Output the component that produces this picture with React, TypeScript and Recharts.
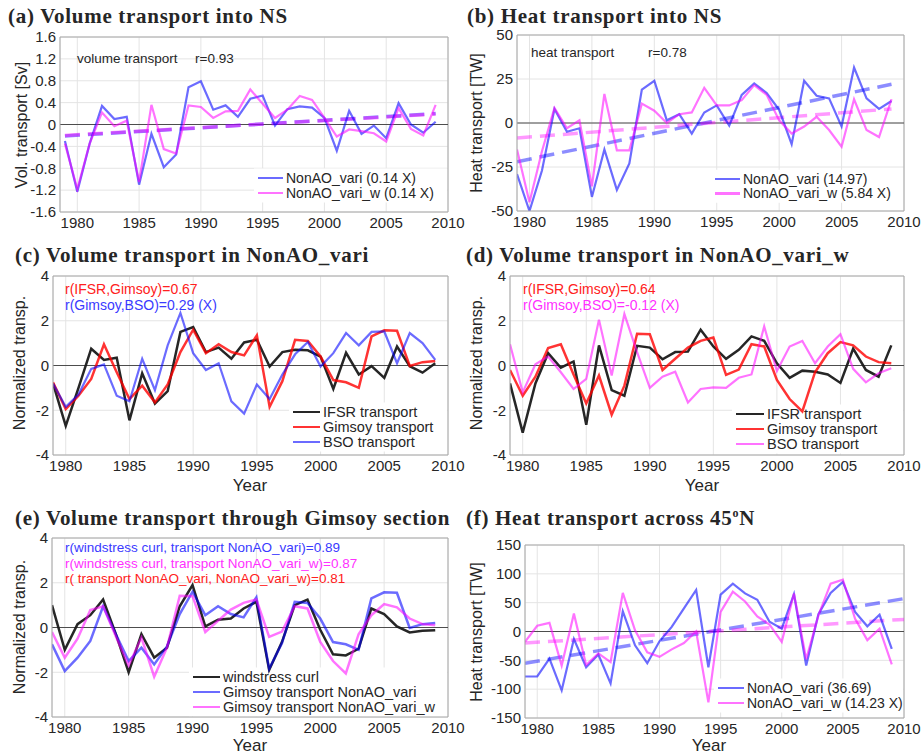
import React from 'react';
import { LineChart, Line, XAxis, YAxis, CartesianGrid, ReferenceLine, ReferenceArea } from 'recharts';

const years = [1979, 1980, 1981, 1982, 1983, 1984, 1985, 1986, 1987, 1988, 1989, 1990, 1991, 1992, 1993, 1994, 1995, 1996, 1997, 1998, 1999, 2000, 2001, 2002, 2003, 2004, 2005, 2006, 2007, 2008, 2009];
const xTicks = [1980, 1985, 1990, 1995, 2000, 2005, 2010];

// (a) volume transport into NS [Sv]
const aVari = [-0.3, -1.23, -0.35, 0.34, 0.1, 0.14, -1.1, -0.17, -0.78, -0.55, 0.68, 0.79, 0.27, 0.35, 0.14, 0.47, 0.53, -0.02, 0.28, 0.33, 0.31, 0.12, -0.48, 0.25, -0.17, -0.02, -0.25, 0.39, 0.0, -0.15, 0.05];
const aVariW = [-0.35, -1.18, -0.35, 0.22, -0.03, 0.07, -1.05, 0.36, -0.45, -0.53, 0.35, 0.32, 0.12, 0.24, 0.25, 0.64, 0.38, 0.12, 0.27, 0.52, 0.45, 0.12, -0.22, -0.09, -0.12, -0.16, -0.31, 0.3, -0.08, -0.2, 0.36];
const aTrendVari = [-0.21, 0.2];
const aTrendVariW = [-0.2, 0.19];

// (b) heat transport into NS [TW]
const bVari = [-29, -50, -27, 8, -5, -3, -42, -15, -38, -23, 19, 24, 1.5, 5, -6, 6, 10, -1.5, 16, 22.5, 17, 7.5, -12, 24, 15.5, 14, -2, 31.5, 14, 8, 12.5];
const bVariW = [-15, -45, -16, 8.5, -3, 1.5, -36, 16.5, -15.5, -15.5, 11, 7, 0, 5, 6, 20, 10, 10, 13, 21.5, 16, 1.5, -6, -2, 3.5, -4, -13.5, 13.5, -4, -8, 13.5];
const bTrendVari = [-22, 22];
const bTrendVariW = [-8.5, 8];
const trendYears = [1979, 2009];

// (c) NonAO_vari, normalized
const cIfsr = [-0.8, -2.7, -1.0, 0.75, 0.25, 0.35, -2.45, -0.35, -1.7, -1.15, 1.5, 1.72, 0.6, 0.8, 0.3, 1.03, 1.15, -0.05, 0.6, 0.7, 0.68, 0.4, -1.05, 0.57, -0.4, -0.03, -0.55, 0.85, -0.03, -0.32, 0.1];
const gimsoyVari = [-0.75, -1.95, -1.35, -0.6, 0.95, -0.3, -1.5, -0.9, -1.65, -0.85, 0.6, 1.6, 0.55, 0.95, 0.6, 0.45, 1.35, -1.85, -0.7, 1.15, 1.1, 0.4, -0.65, -0.75, -1.0, 1.3, 1.57, 1.55, -0.02, 0.15, 0.2];
const cBso = [-0.8, -1.85, -1.3, -0.15, 0.05, -1.35, -1.6, 0.3, -1.1, 0.9, 2.35, 0.55, -0.2, 0.1, -1.6, -2.15, -0.85, -1.5, -0.4, 0.5, 1.05, -0.05, 0.55, 1.45, 0.9, 1.5, 1.52, 0.1, 1.45, 1.0, 0.25];

// (d) NonAO_vari_w, normalized
const dIfsr = [-0.8, -3.0, -0.8, 0.55, -0.1, 0.18, -2.65, 0.9, -1.1, -1.35, 0.88, 0.8, 0.28, 0.6, 0.62, 1.6, 0.85, 0.3, 0.7, 1.3, 1.1, 0.1, -0.55, -0.23, -0.28, -0.4, -0.78, 0.75, -0.2, -0.5, 0.9];
const gimsoyVariW = [-0.2, -1.35, -0.5, 0.78, 0.95, -0.4, -1.7, -0.45, -2.2, -0.9, 1.42, 1.4, -0.2, 0.3, 0.8, 1.1, 1.25, -0.42, -0.18, 0.95, 0.85, -0.65, -1.5, -2.05, -0.3, 0.55, 1.05, 0.9, 0.4, 0.15, 0.1];
const dBso = [0.95, -1.2, 0.05, 0.4, -0.3, -1.05, -0.6, 2.05, -0.45, 2.3, 0.6, -1.0, -0.5, -0.28, -1.65, -1.05, -0.98, -1.0, -0.55, -0.4, 1.75, -0.25, 0.85, 1.1, 0.1, 0.85, 1.4, -0.15, -0.75, -0.35, -0.12];

// (e) windstress curl
const eWind = [1.0, -1.0, 0.15, 0.55, 1.25, -0.3, -2.0, -0.3, -1.35, -0.9, 0.95, 1.9, 0.05, 0.35, 0.4, 0.85, 1.15, -1.9, -0.65, 1.0, 1.25, -0.1, -1.2, -1.25, -0.95, 0.85, 0.6, 0.05, -0.22, -0.15, -0.12];

// (f) heat transport across 45N [TW]
const fVari = [-78, -78, -47, -102, -13, -62, -40, -90, 35, -24, -55, -17, 8, 40, 72, -62, 64, 83, 66, 55, 17, 5, 65, -59, 30, 67, 86, 34, 9, 29, -30];
const fVariW = [-18, 10, 15, -59, 31, -58, -38, -53, 67, 2, -36, -44, -31, -20, 0, -123, 34, 69, 52, 26, 12, -18, 66, -48, 28, 83, 90, 22, -15, 5, -57];
const fTrendYears = [1979, 2010];
const fTrendVari = [-55, 57];
const fTrendVariW = [-20, 21];

const SANS = '"Liberation Sans", Arial, Helvetica, sans-serif';
const SERIF = '"Liberation Serif", "Times New Roman", serif';
const BORDER = '#a8a8a8';
const TXT = '#262626';

const BLUE = { color: '#0000ff', op: 0.58 };
const PINK = { color: '#ff00ff', op: 0.55 };
const RED = { color: '#ff0000', op: 0.8 };
const BLACK = { color: '#1a1a1a', op: 0.95 };

const YW = 50, MT = 12, MR = 22, XH = 26;

const fmt1 = (v: number) => (v === 0 ? '0' : v.toFixed(1));
const fmt0 = (v: number) => String(v);

type S = { key: string; color: string; op: number; w?: number };
type T = { data: { year: number; v: number }[]; color: string; op: number };
type Item = { label: string; color: string; op: number };
type Leg = { left: number; top: number; rowH: number; lineLen: number; fontSize: number; items: Item[] };

function Legend(p: Leg) {
  return (
    <div style={{ position: 'absolute', left: p.left - 3, top: p.top - p.rowH / 2 - 2, padding: '2px 3px',
      fontFamily: SANS, fontSize: p.fontSize, color: TXT, lineHeight: p.rowH + 'px' }}>
      {p.items.map((it) => (
        <div key={it.label} style={{ display: 'flex', alignItems: 'center', whiteSpace: 'nowrap', height: p.rowH }}>
          <span style={{ display: 'inline-block', width: p.lineLen, height: 2.5, background: it.color, opacity: it.op, marginRight: 3 }} />
          <span>{it.label}</span>
        </div>
      ))}
    </div>
  );
}

function Panel(p: {
  x0: number; x1: number; y0: number; y1: number;
  xDomain: number[]; yDomain: number[]; yTicks: number[];
  fmt: (v: number) => string;
  rows: any[]; series: S[]; trends?: T[]; legend: Leg;
}) {
  const w = p.x1 - p.x0 + YW + MR;
  const h = p.y1 - p.y0 + MT + XH;
  const tick = { fontSize: 15, fill: TXT, fontFamily: SANS };
  // white box behind the legend (hides the grid, lines stay on top)
  const L = p.legend;
  const toX = (px: number) => p.xDomain[0] + ((px - p.x0) / (p.x1 - p.x0)) * (p.xDomain[1] - p.xDomain[0]);
  const toY = (py: number) => p.yDomain[1] - ((py - p.y0) / (p.y1 - p.y0)) * (p.yDomain[1] - p.yDomain[0]);
  const bTop = L.top - L.rowH / 2 - 2;
  const bBot = bTop + L.items.length * L.rowH + 4;
  return (
    <>
      <div style={{ position: 'absolute', left: p.x0 - YW, top: p.y0 - MT }}>
        <LineChart width={w} height={h} data={p.rows} margin={{ top: MT, right: MR, left: 0, bottom: 0 }}>
          <CartesianGrid stroke="#e4e4e4" />
          <XAxis type="number" dataKey="year" domain={p.xDomain} ticks={xTicks} allowDataOverflow interval={0}
            tickSize={0} tickMargin={5} height={XH} axisLine={{ stroke: BORDER }} tick={tick} />
          <YAxis type="number" domain={p.yDomain} ticks={p.yTicks} allowDataOverflow interval={0}
            tickSize={0} tickMargin={4} width={YW} axisLine={{ stroke: BORDER }} tick={tick} tickFormatter={p.fmt} />
          <ReferenceArea x1={toX(L.left - 4)} x2={toX(p.x1 - 1)} y1={toY(bBot)} y2={toY(bTop)}
            fill="#ffffff" fillOpacity={1} stroke="none" />
          <ReferenceLine y={p.yDomain[1]} stroke={BORDER} />
          <ReferenceLine x={p.xDomain[1]} stroke={BORDER} />
          <ReferenceLine y={0} stroke="#4d4d4d" />
          {(p.trends || []).map((t, i) => (
            <Line key={'t' + i} data={t.data} dataKey="v" type="linear" stroke={t.color} strokeOpacity={t.op}
              strokeWidth={3.5} strokeDasharray="15 8" dot={false} activeDot={false} isAnimationActive={false} />
          ))}
          {p.series.map((s) => (
            <Line key={s.key} dataKey={s.key} type="linear" stroke={s.color} strokeOpacity={s.op}
              strokeWidth={s.w || 2.2} dot={false} activeDot={false} isAnimationActive={false} />
          ))}
        </LineChart>
      </div>
      <Legend {...L} />
    </>
  );
}

function Txt(p: { x: number; y: number; size: number; color?: string; children: React.ReactNode; bold?: boolean; serif?: boolean; center?: boolean; rotate?: boolean; ls?: number; lh?: number }) {
  const transform = p.rotate ? 'translate(-50%, -50%) rotate(-90deg)' : p.center ? 'translate(-50%, -50%)' : 'translateY(-50%)';
  return (
    <div style={{ position: 'absolute', left: p.x, top: p.y, transform, whiteSpace: 'nowrap', fontSize: p.size,
      lineHeight: p.lh || 1.2, color: p.color || TXT, fontWeight: p.bold ? 700 : 400, fontFamily: p.serif ? SERIF : SANS,
      letterSpacing: p.ls || 0 }}>
      {p.children}
    </div>
  );
}

const tr = (ys: number[], vs: number[]) => ys.map((year, i) => ({ year, v: vs[i] }));

function Title(p: { x: number; y: number; children: React.ReactNode }) {
  return <Txt x={p.x} y={p.y} size={21} bold serif ls={0.7} lh={1}>{p.children}</Txt>;
}

export default function App() {
  const rowsA = years.map((year, i) => ({ year, vari: aVari[i], variW: aVariW[i] }));
  const rowsB = years.map((year, i) => ({ year, vari: bVari[i], variW: bVariW[i] }));
  const rowsC = years.map((year, i) => ({ year, ifsr: cIfsr[i], gims: gimsoyVari[i], bso: cBso[i] }));
  const rowsD = years.map((year, i) => ({ year, ifsr: dIfsr[i], gims: gimsoyVariW[i], bso: dBso[i] }));
  const rowsE = years.map((year, i) => ({ year, wind: eWind[i], gv: gimsoyVari[i], gw: gimsoyVariW[i] }));
  const rowsF = years.map((year, i) => ({ year, vari: fVari[i], variW: fVariW[i] }));
  const normTicks = [-4, -2, 0, 2, 4];

  return (
    <div style={{ position: 'absolute', left: 0, top: 0, width: 924, height: 755, background: '#fff', overflow: 'hidden' }}>
      {/* (a) */}
      <Title x={8} y={16}>(a) Volume transport into NS</Title>
      <Panel x0={60} x1={448} y0={37} y1={212} xDomain={[1978.6, 2010]} yDomain={[-1.6, 1.6]}
        yTicks={[-1.6, -1.2, -0.8, -0.4, 0, 0.4, 0.8, 1.2, 1.6]} fmt={fmt1} rows={rowsA}
        series={[{ key: 'vari', ...BLUE }, { key: 'variW', ...PINK }]}
        trends={[{ data: tr(trendYears, aTrendVari), color: '#0000ff', op: 0.45 }, { data: tr(trendYears, aTrendVariW), color: '#ff00ff', op: 0.45 }]}
        legend={{ left: 258, top: 178, rowH: 15, lineLen: 25, fontSize: 14,
          items: [{ label: 'NonAO_vari (0.14 X)', ...BLUE }, { label: 'NonAO_vari_w (0.14 X)', ...PINK }] }} />
      <Txt x={22} y={125} size={16} rotate>Vol. transport [Sv]</Txt>
      <Txt x={77} y={59} size={13.5}>volume transport</Txt>
      <Txt x={195} y={59} size={13.5}>r=0.93</Txt>

      {/* (b) */}
      <Title x={467} y={16}>(b) Heat transport into NS</Title>
      <Panel x0={517} x1={904} y0={35} y1={211} xDomain={[1979, 2010]} yDomain={[-50, 50]}
        yTicks={[-50, -25, 0, 25, 50]} fmt={fmt0} rows={rowsB}
        series={[{ key: 'vari', ...BLUE }, { key: 'variW', ...PINK }]}
        trends={[{ data: tr(trendYears, bTrendVari), color: '#0000ff', op: 0.45 }, { data: tr(trendYears, bTrendVariW), color: '#ff00ff', op: 0.4 }]}
        legend={{ left: 715, top: 179, rowH: 14.5, lineLen: 25, fontSize: 14,
          items: [{ label: 'NonAO_vari (14.97)', ...BLUE }, { label: 'NonAO_vari_w (5.84 X)', ...PINK }] }} />
      <Txt x={477} y={123} size={16} rotate>Heat transport [TW]</Txt>
      <Txt x={531} y={53} size={13.5}>heat transport</Txt>
      <Txt x={648} y={53} size={13.5}>r=0.78</Txt>

      {/* (c) */}
      <Title x={15} y={255}>(c) Volume transport in NonAO_vari</Title>
      <Panel x0={53} x1={448} y0={276} y1={455} xDomain={[1979, 2010]} yDomain={[-4, 4]}
        yTicks={normTicks} fmt={fmt0} rows={rowsC}
        series={[{ key: 'ifsr', ...BLACK, w: 2.5 }, { key: 'gims', ...RED, w: 2.5 }, { key: 'bso', ...BLUE }]}
        legend={{ left: 293, top: 412, rowH: 15, lineLen: 27, fontSize: 14.5,
          items: [{ label: 'IFSR transport', ...BLACK }, { label: 'Gimsoy transport', ...RED }, { label: 'BSO transport', ...BLUE }] }} />
      <Txt x={20} y={363} size={16} rotate>Normalized transp.</Txt>
      <Txt x={65} y={289} size={14} color="#ff2020">r(IFSR,Gimsoy)=0.67</Txt>
      <Txt x={65} y={305} size={14} color="#3a3aff">r(Gimsoy,BSO)=0.29 (X)</Txt>
      <Txt x={250} y={486} size={17} center>Year</Txt>

      {/* (d) */}
      <Title x={466} y={255}>(d) Volume transport in NonAO_vari_w</Title>
      <Panel x0={510} x1={904} y0={276} y1={455} xDomain={[1979, 2010]} yDomain={[-4, 4]}
        yTicks={normTicks} fmt={fmt0} rows={rowsD}
        series={[{ key: 'ifsr', ...BLACK, w: 2.5 }, { key: 'gims', ...RED, w: 2.5 }, { key: 'bso', ...PINK }]}
        legend={{ left: 736, top: 414, rowH: 15, lineLen: 28, fontSize: 14.5,
          items: [{ label: 'IFSR transport', ...BLACK }, { label: 'Gimsoy transport', ...RED }, { label: 'BSO transport', ...PINK }] }} />
      <Txt x={477} y={363} size={16} rotate>Normalized transp.</Txt>
      <Txt x={523} y={289} size={14} color="#ff2020">r(IFSR,Gimsoy)=0.64</Txt>
      <Txt x={523} y={305} size={14} color="#ff30ff">r(Gimsoy,BSO)=-0.12 (X)</Txt>
      <Txt x={702} y={486} size={17} center>Year</Txt>

      {/* (e) */}
      <Title x={15} y={518}>(e) Volume transport through Gimsoy section</Title>
      <Panel x0={52} x1={448} y0={538} y1={717} xDomain={[1979, 2010]} yDomain={[-4, 4]}
        yTicks={normTicks} fmt={fmt0} rows={rowsE}
        series={[{ key: 'wind', ...BLACK, w: 2.5 }, { key: 'gv', ...BLUE, w: 2.5 }, { key: 'gw', ...PINK, w: 2.5 }]}
        legend={{ left: 193, top: 677, rowH: 15, lineLen: 27, fontSize: 14.5,
          items: [{ label: 'windstress curl', ...BLACK }, { label: 'Gimsoy transport NonAO_vari', ...BLUE }, { label: 'Gimsoy transport NonAO_vari_w', ...PINK }] }} />
      <Txt x={20} y={627} size={16} rotate>Normalized transp.</Txt>
      <Txt x={65} y={548} size={13.5} color="#3a3aff">r(windstress curl, transport NonAO_vari)=0.89</Txt>
      <Txt x={65} y={564} size={13.5} color="#ff30ff">r(windstress curl, transport NonAO_vari_w)=0.87</Txt>
      <Txt x={65} y={579} size={13.5} color="#ff2020">r( transport NonAO_vari, NonAO_vari_w)=0.81</Txt>
      <Txt x={250} y={746} size={17} center>Year</Txt>

      {/* (f) */}
      <Title x={466} y={518}>(f) Heat transport across 45<sup style={{ fontSize: 12 }}>o</sup>N</Title>
      <Panel x0={525} x1={904} y0={545} y1={718} xDomain={[1979, 2010]} yDomain={[-150, 150]}
        yTicks={[-150, -100, -50, 0, 50, 100, 150]} fmt={fmt0} rows={rowsF}
        series={[{ key: 'vari', ...BLUE }, { key: 'variW', ...PINK }]}
        trends={[{ data: tr(fTrendYears, fTrendVari), color: '#0000ff', op: 0.45 }, { data: tr(fTrendYears, fTrendVariW), color: '#ff00ff', op: 0.4 }]}
        legend={{ left: 718, top: 688, rowH: 15, lineLen: 26, fontSize: 14,
          items: [{ label: 'NonAO_vari (36.69)', ...BLUE }, { label: 'NonAO_vari_w (14.23 X)', ...PINK }] }} />
      <Txt x={477} y={632} size={16} rotate>Heat transport [TW]</Txt>
      <Txt x={709} y={746} size={17} center>Year</Txt>
    </div>
  );
}
